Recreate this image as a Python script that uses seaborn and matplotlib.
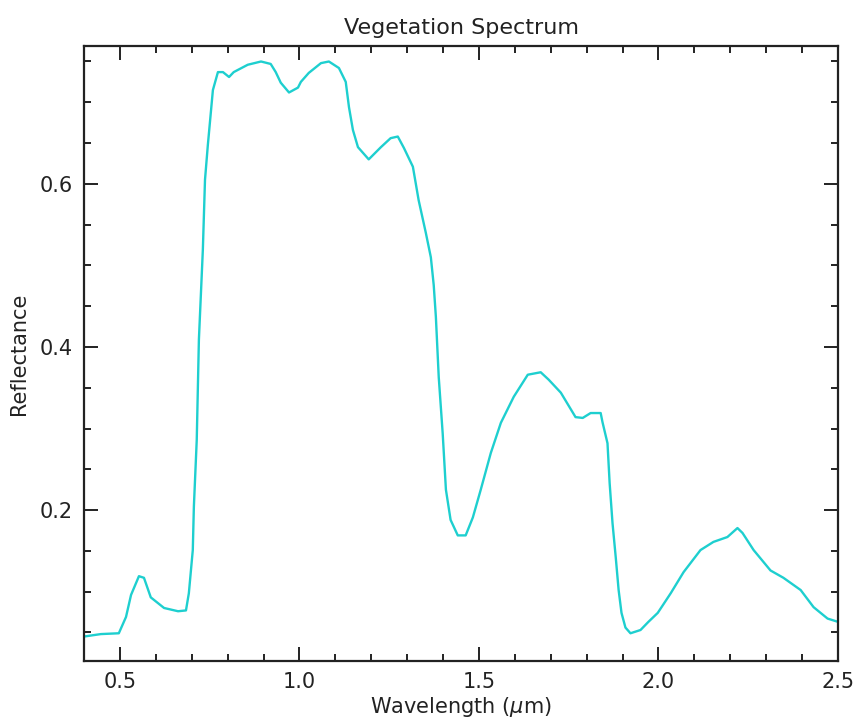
import numpy as np
import pandas as pd
import matplotlib
matplotlib.use("Agg")
import matplotlib.pyplot as plt
from matplotlib.ticker import MultipleLocator, FixedLocator
import seaborn as sns

# Wavelength (um) and reflectance
wavelength = [0.400, 0.447, 0.497, 0.517, 0.531, 0.553, 0.567, 0.586, 0.623, 0.662,
              0.684, 0.692, 0.703, 0.706, 0.714, 0.720, 0.731, 0.737, 0.745, 0.759,
              0.773, 0.787, 0.804, 0.817, 0.856, 0.893, 0.920, 0.934, 0.948, 0.971,
              0.996, 1.004, 1.026, 1.060, 1.082, 1.110, 1.129, 1.138, 1.149, 1.163,
              1.193, 1.227, 1.254, 1.274, 1.291, 1.316, 1.332, 1.352, 1.366, 1.374,
              1.380, 1.388, 1.399, 1.408, 1.421, 1.441, 1.463, 1.483, 1.505, 1.533,
              1.561, 1.597, 1.636, 1.672, 1.694, 1.728, 1.769, 1.789, 1.811, 1.839,
              1.844, 1.858, 1.864, 1.872, 1.881, 1.889, 1.897, 1.908, 1.922, 1.950,
              1.972, 1.998, 2.034, 2.070, 2.117, 2.153, 2.192, 2.220, 2.234, 2.265,
              2.312, 2.348, 2.396, 2.432, 2.471, 2.500]
reflectance = [0.045, 0.048, 0.049, 0.069, 0.096, 0.119, 0.117, 0.093, 0.080, 0.076,
               0.077, 0.098, 0.151, 0.204, 0.286, 0.409, 0.519, 0.605, 0.648, 0.715,
               0.737, 0.737, 0.731, 0.737, 0.746, 0.750, 0.747, 0.737, 0.724, 0.712,
               0.718, 0.725, 0.736, 0.748, 0.750, 0.742, 0.725, 0.694, 0.666, 0.645,
               0.630, 0.645, 0.656, 0.658, 0.644, 0.621, 0.580, 0.540, 0.510, 0.476,
               0.437, 0.363, 0.294, 0.225, 0.188, 0.169, 0.169, 0.191, 0.225, 0.270,
               0.307, 0.339, 0.366, 0.369, 0.360, 0.344, 0.314, 0.313, 0.319, 0.319,
               0.308, 0.282, 0.233, 0.184, 0.142, 0.102, 0.074, 0.056, 0.049, 0.053,
               0.063, 0.074, 0.098, 0.124, 0.151, 0.161, 0.167, 0.178, 0.172, 0.151,
               0.126, 0.117, 0.102, 0.081, 0.067, 0.063]

x_ticks = [0.5, 1.0, 1.5, 2.0, 2.5]
x_tick_labels = ["0.5", "1.0", "1.5", "2.0", "2.5"]
y_ticks = [0.2, 0.4, 0.6]
y_tick_labels = ["0.2", "0.4", "0.6"]

df = pd.DataFrame({"wavelength": wavelength, "reflectance": reflectance})

sns.set_style("ticks")
plt.rcParams["font.family"] = ["DejaVu Sans"]

fig = plt.figure(figsize=(8.56, 7.25), dpi=100)
ax = fig.add_axes([84 / 856, 1 - 661 / 725, (838 - 84) / 856, (661 - 46) / 725])

sns.lineplot(data=df, x="wavelength", y="reflectance", ax=ax,
             color="#1ECFCF", linewidth=1.7, sort=False)

ax.set_xlim(0.4, 2.5)
ax.set_ylim(0.015, 0.769)
ax.xaxis.set_major_locator(FixedLocator(x_ticks))
ax.set_xticklabels(x_tick_labels)
ax.xaxis.set_minor_locator(MultipleLocator(0.1))
ax.yaxis.set_major_locator(FixedLocator(y_ticks))
ax.set_yticklabels(y_tick_labels)
ax.yaxis.set_minor_locator(MultipleLocator(0.05))

ax.tick_params(which="both", direction="in", top=True, right=True,
               color="#222222", width=1.4, labelsize=15, labelcolor="#222222")
ax.tick_params(which="major", length=10, pad=8)
ax.tick_params(which="minor", length=5)
for s in ax.spines.values():
    s.set_linewidth(1.6)
    s.set_color("#222222")

ax.set_title("Vegetation Spectrum", fontsize=16, color="#222222", pad=9)
ax.set_xlabel(r"Wavelength ($\mu$m)", fontsize=15, color="#222222", labelpad=2)
ax.set_ylabel("Reflectance", fontsize=15, color="#222222", labelpad=8)

fig.savefig("out.png", dpi=100)
